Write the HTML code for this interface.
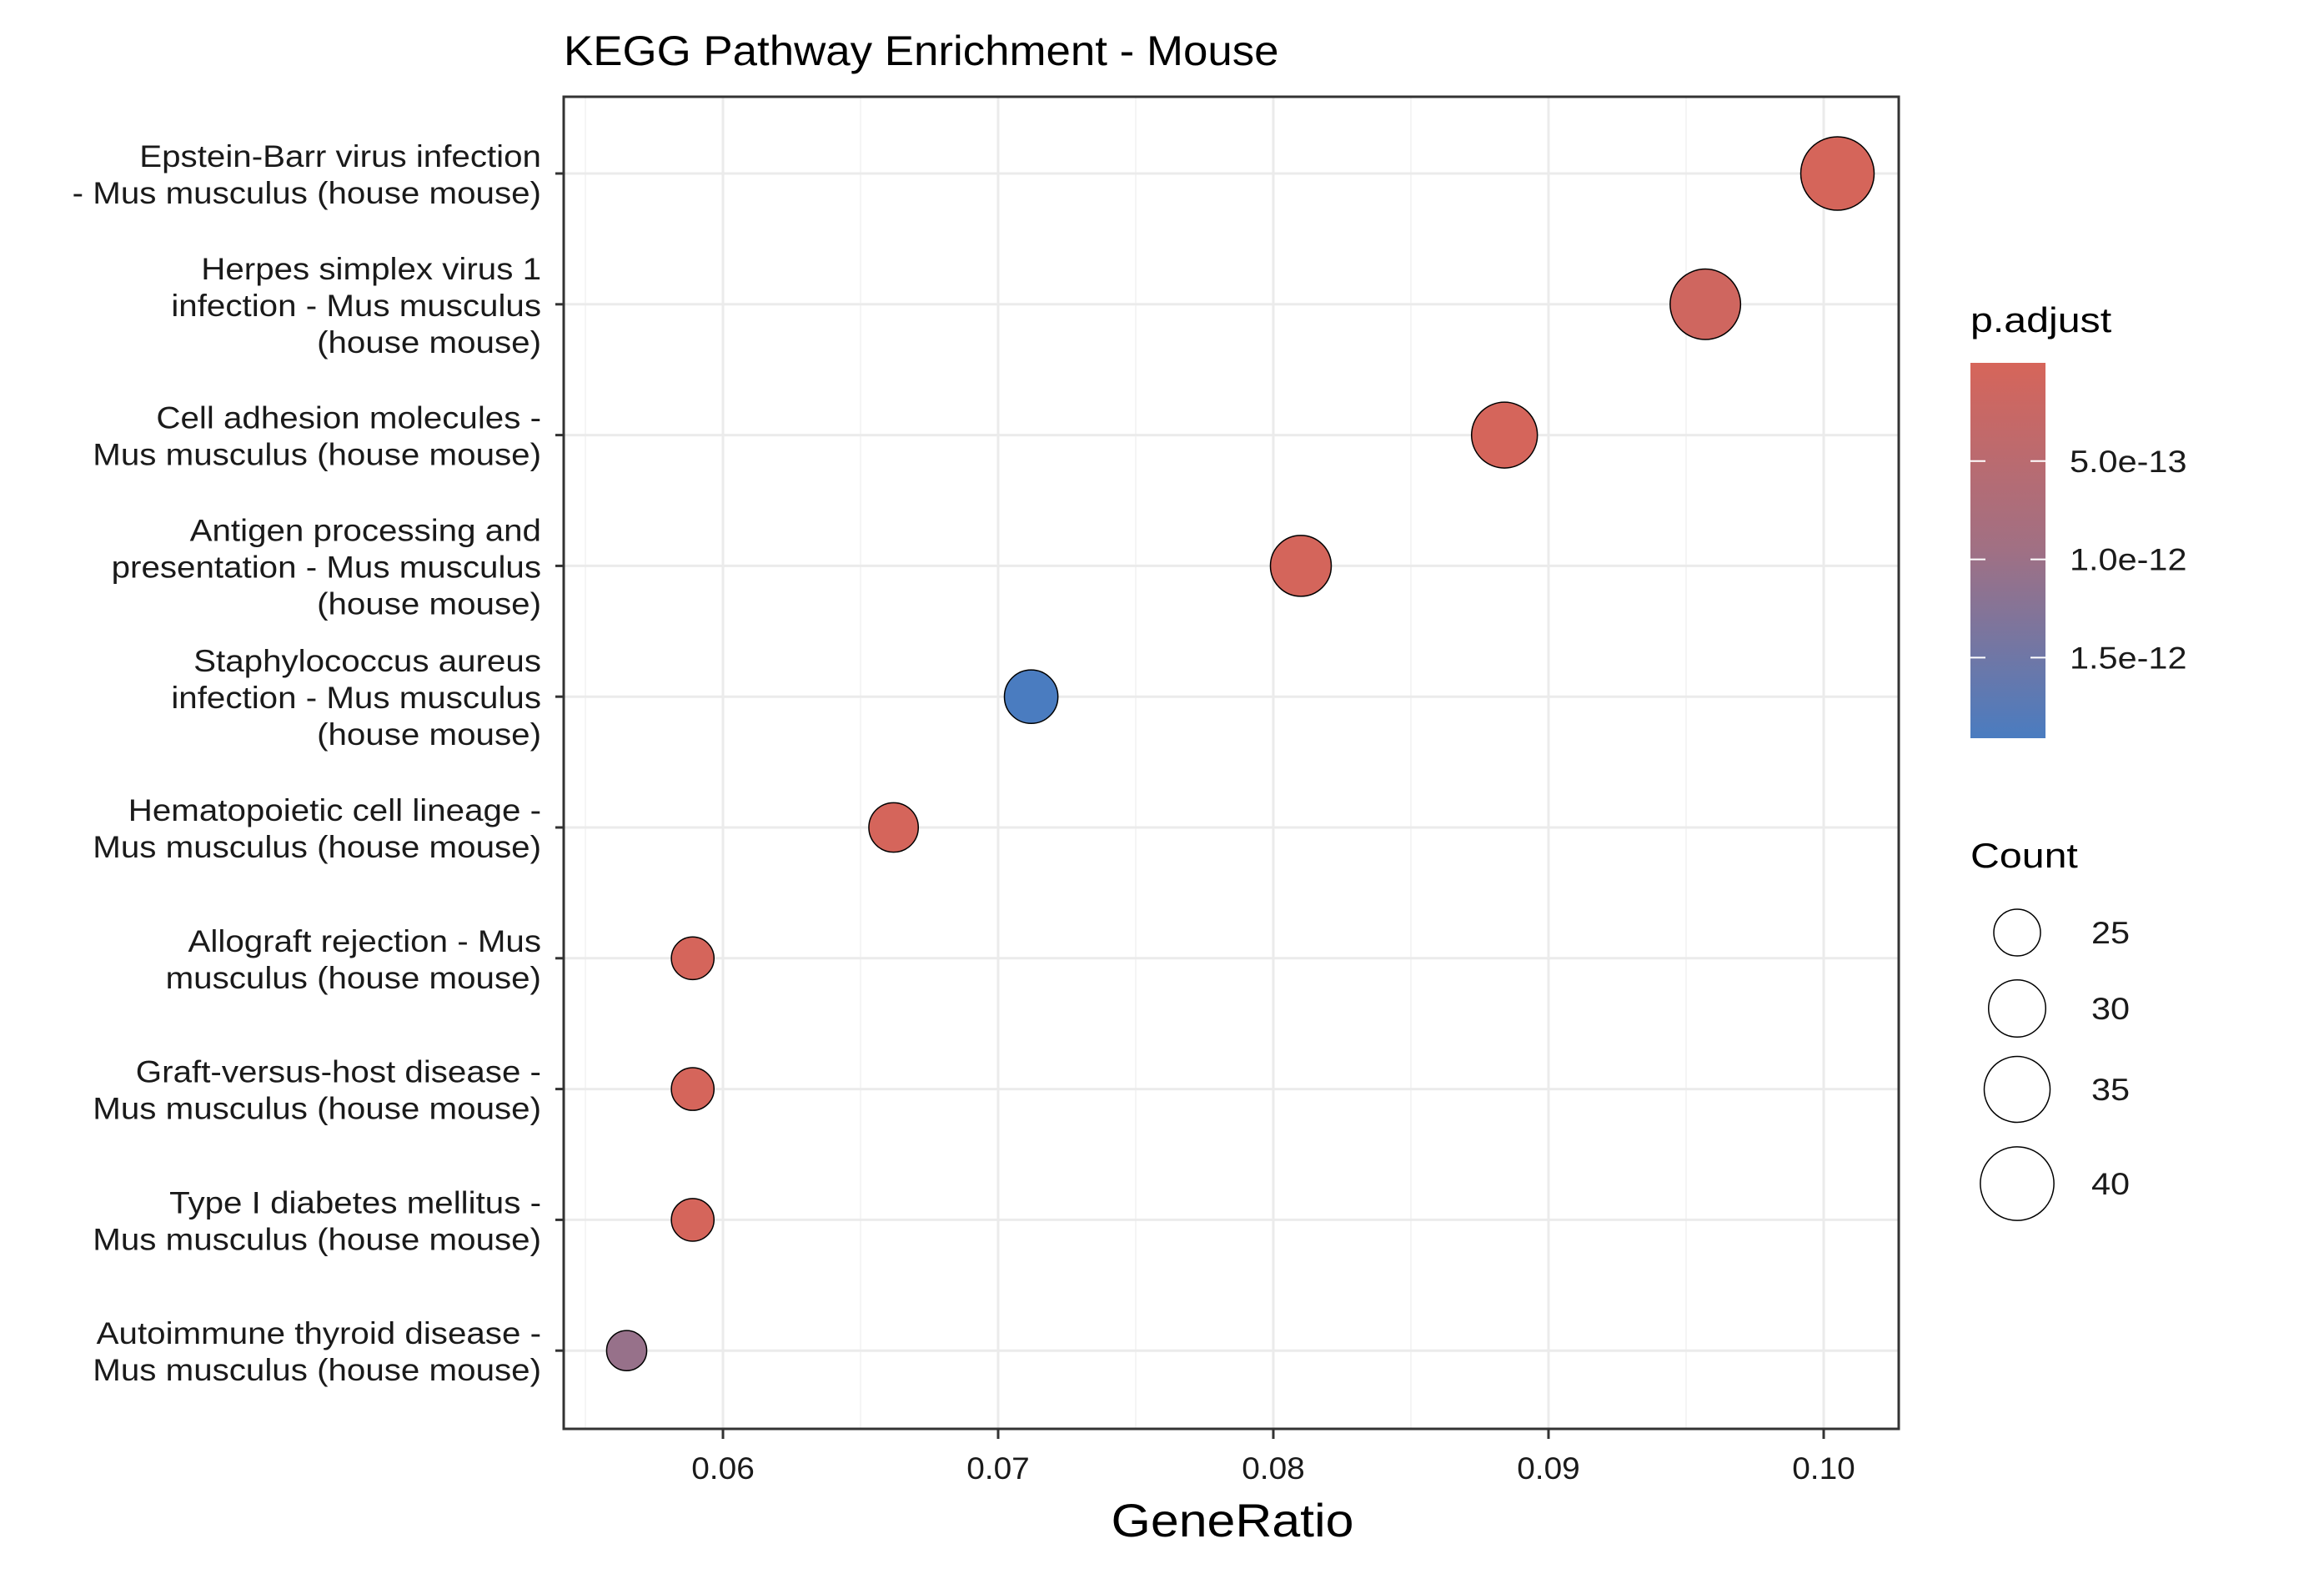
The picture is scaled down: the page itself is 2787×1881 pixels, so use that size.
<!DOCTYPE html>
<html><head><meta charset="utf-8"><style>
html,body{margin:0;padding:0;background:#fff;}
svg{display:block;font-family:"Liberation Sans",Arial,sans-serif;}
</style></head><body>
<svg id="chart" width="2787" height="1881" viewBox="0 0 2787 1881" xmlns="http://www.w3.org/2000/svg">
<defs>
<linearGradient id="cbar" x1="0" y1="0" x2="0" y2="1">
<stop offset="0" stop-color="#D6655A"/>
<stop offset="0.5" stop-color="#A07084"/>
<stop offset="1" stop-color="#4A7CC0"/>
</linearGradient>
</defs>
<text x="676" y="78" font-size="50" fill="#000" transform="translate(676,0) scale(1.057,1) translate(-676,0)">KEGG Pathway Enrichment - Mouse</text>
<g id="grid"></g>
<g id="ylabels"></g>
<g id="points"></g>
<rect x="676" y="116" width="1601" height="1597" fill="none" stroke="#333" stroke-width="3"/>
<g id="xaxis"></g>
<text x="1478" y="1842" font-size="56" text-anchor="middle" fill="#000" transform="translate(1478,0) scale(1.087,1) translate(-1478,0)">GeneRatio</text>
<g id="legend-color">
<text x="2363" y="398" font-size="42" fill="#000" transform="translate(2363,0) scale(1.15,1) translate(-2363,0)">p.adjust</text>
<rect x="2363" y="435" width="90" height="450" fill="url(#cbar)"/>
</g>
<g id="legend-size">
<text x="2363" y="1040" font-size="42" fill="#000" transform="translate(2363,0) scale(1.15,1) translate(-2363,0)">Count</text>
</g>
</svg>
<script>
const categories = [
 ["Epstein-Barr virus infection","- Mus musculus (house mouse)"],
 ["Herpes simplex virus 1","infection - Mus musculus","(house mouse)"],
 ["Cell adhesion molecules -","Mus musculus (house mouse)"],
 ["Antigen processing and","presentation - Mus musculus","(house mouse)"],
 ["Staphylococcus aureus","infection - Mus musculus","(house mouse)"],
 ["Hematopoietic cell lineage -","Mus musculus (house mouse)"],
 ["Allograft rejection - Mus","musculus (house mouse)"],
 ["Graft-versus-host disease -","Mus musculus (house mouse)"],
 ["Type I diabetes mellitus -","Mus musculus (house mouse)"],
 ["Autoimmune thyroid disease -","Mus musculus (house mouse)"]
];
const counts = [41,39,36,33,29,27,24,24,24,23];
const geneRatio = [0.1005,0.0957,0.0884,0.0810,0.0712,0.0662,0.0589,0.0589,0.0589,0.0565];
const pAdjust = [1e-14,1.2e-13,2e-14,3e-14,1.91e-12,2e-14,2e-14,2e-14,2e-14,1.05e-12];
const xTicks = [0.06,0.07,0.08,0.09,0.10];
const xTickLabels = ["0.06","0.07","0.08","0.09","0.10"];
const colorTicks = [5e-13,1e-12,1.5e-12];
const colorTickLabels = ["5.0e-13","1.0e-12","1.5e-12"];
const sizeBreaks = [25,30,35,40];

const NS="http://www.w3.org/2000/svg";
const PL=676, PR=2277, PT=116, PB=1713;
function xs(v){ return 1857 + (v-0.09)*33000; }
function ys(i){ return 208 + i*156.8; }
function rs(c){ return Math.sqrt(Math.max(0,-1156 + 75.4*c)); }
const PMIN=0, PMAX=1.91e-12;
function cbY(p){ return 435 + (p-PMIN)/(PMAX-PMIN)*450; }
function col(p){
  let t=Math.min(1,Math.max(0,(p-PMIN)/(PMAX-PMIN)));
  const a=[214,101,90], m=[160,112,132], b=[74,124,192];
  let c;
  if(t<0.5){const u=t/0.5;c=a.map((v,k)=>Math.round(v+(m[k]-v)*u));}
  else{const u=(t-0.5)/0.5;c=m.map((v,k)=>Math.round(v+(b[k]-v)*u));}
  return "rgb("+c.join(",")+")";
}
function mk(tag,attrs,parent){const e=document.createElementNS(NS,tag);for(const k in attrs)e.setAttribute(k,attrs[k]);parent.appendChild(e);return e;}
function stretch(x,s){ return "translate("+x+",0) scale("+s+",1) translate("+(-x)+",0)"; }

const grid=document.getElementById('grid');
for(let i=0;i<xTicks.length+1;i++){
  const v=xTicks[0]-0.005+i*0.01;
  const x=xs(v);
  if(x<PL||x>PR) continue;
  const l=mk('line',{x1:x,x2:x,y1:PT,y2:PB,stroke:'#F2F2F2','stroke-width':1.5},grid);
  
  
}
xTicks.forEach(v=>{
  const l=mk('line',{x1:xs(v),x2:xs(v),y1:PT,y2:PB,stroke:'#EBEBEB','stroke-width':3},grid);
  
  
});
categories.forEach((c,i)=>{
  const l=mk('line',{x1:PL,x2:PR,y1:ys(i),y2:ys(i),stroke:'#EBEBEB','stroke-width':3},grid);
  
  
});

const yl=document.getElementById('ylabels');
categories.forEach((lines,i)=>{
  const y=ys(i);
  const t=mk('text',{'font-size':37,'text-anchor':'end',fill:'#1a1a1a',transform:stretch(649,1.09)},yl);
  
  
  const n=lines.length;
  lines.forEach((s,k)=>{
    const ts=mk('tspan',{x:649,y:y+14+(k-(n-1)/2)*44},t);
    ts.textContent=s;
  });
  const tk=mk('line',{x1:PL-10,x2:PL,y1:y,y2:y,stroke:'#333','stroke-width':3},yl);
  
  
});

const pts=document.getElementById('points');
geneRatio.forEach((g,i)=>{
  const c=mk('circle',{cx:xs(g),cy:ys(i),r:rs(counts[i]),fill:col(pAdjust[i]),stroke:'#000','stroke-width':1.5},pts);
  
  
});

const xa=document.getElementById('xaxis');
xTicks.forEach((v,i)=>{
  const tk=mk('line',{x1:xs(v),x2:xs(v),y1:PB,y2:PB+12,stroke:'#333','stroke-width':3},xa);
  
  
  const t=mk('text',{x:xs(v),y:1773,'font-size':37,'text-anchor':'middle',fill:'#1a1a1a',transform:stretch(xs(v),1.05)},xa);
  
  
  t.textContent=xTickLabels[i];
});

const lc=document.getElementById('legend-color');
colorTicks.forEach((p,i)=>{
  const y=cbY(p);
  const a=mk('line',{x1:2363,x2:2381,y1:y,y2:y,stroke:'#fff','stroke-width':2},lc);
  
  
  const b=mk('line',{x1:2435,x2:2453,y1:y,y2:y,stroke:'#fff','stroke-width':2},lc);
  
  
  const t=mk('text',{x:2482,y:y+13,'font-size':37,fill:'#1a1a1a',transform:stretch(2482,1.12)},lc);
  
  
  t.textContent=colorTickLabels[i];
});

const ls=document.getElementById('legend-size');
const sizeY=[1118,1209,1306,1419];
sizeBreaks.forEach((c,i)=>{
  const e=mk('circle',{cx:2419,cy:sizeY[i],r:rs(c)+1,fill:'#fff',stroke:'#000','stroke-width':1.5},ls);
  
  
  const t=mk('text',{x:2508,y:sizeY[i]+13,'font-size':37,fill:'#1a1a1a',transform:stretch(2508,1.12)},ls);
  
  
  t.textContent=String(c);
});
</script>
</body></html>
